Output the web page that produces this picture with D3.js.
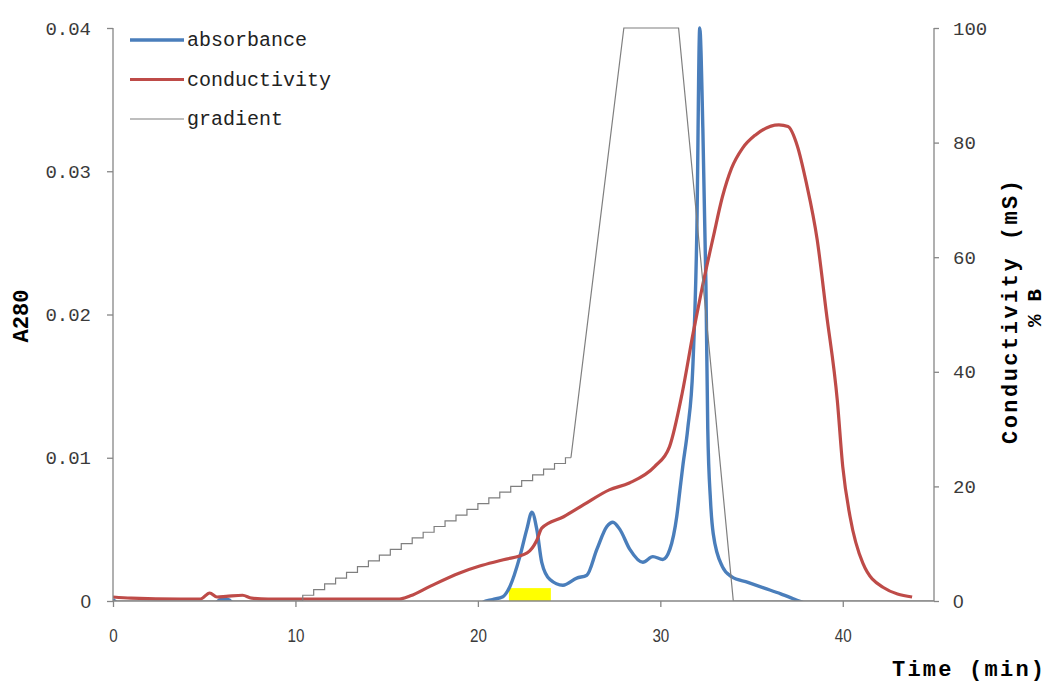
<!DOCTYPE html>
<html><head><meta charset="utf-8">
<script src="https://cdn.jsdelivr.net/npm/d3@7"></script>
<style>
html,body{margin:0;padding:0;background:#fff;}
svg{display:block;}
</style></head>
<body>
<svg id="chart" width="1048" height="682"></svg>
<script>
// ---- data ----
const absTime = [0, 0.3, 1, 5.4, 5.9, 6.3, 6.8, 10, 15, 20, 20.27, 20.8, 21.37, 21.75, 22.3, 22.68, 22.96, 23.23, 23.5, 23.95, 24.66, 25.42, 25.97, 26.52, 27.07, 27.4, 27.78, 28.33, 29.04, 29.59, 30.14, 30.52, 30.9, 31.07, 31.23, 31.5, 31.78, 32.0, 32.16, 32.33, 32.5, 32.6, 32.75, 32.9, 33.4, 33.9, 34.8, 35.7, 36.6, 37.4, 37.8, 38.5, 44];
const absValue = [0.0001, -0.0002, -0.0004, -0.0004, 0.0001, 0.0001, -0.0004, -0.0005, -0.0005, -0.0005, -0.0001, 0.0001, 0.0003, 0.001, 0.0031, 0.005, 0.0062, 0.005, 0.0027, 0.0015, 0.0011, 0.0016, 0.0018, 0.0036, 0.0052, 0.0055, 0.005, 0.0036, 0.0027, 0.0031, 0.0029, 0.0036, 0.0059, 0.0077, 0.0094, 0.012, 0.0163, 0.0257, 0.04, 0.033, 0.022, 0.012, 0.007, 0.0047, 0.0024, 0.0017, 0.0013, 0.0009, 0.0005, 0.0001, -0.0001, -0.0004, -0.0004];

const condTime = [0, 1, 3.7, 4.8, 5.3, 5.7, 6.2, 7.1, 7.6, 8.5, 15.7, 16.3, 17.4, 19.0, 20.1, 21.4, 22.7, 23.23, 23.5, 24.7, 25.8, 27.2, 28.3, 29.7, 30.5, 31.2, 31.8, 32.3, 32.9, 33.4, 33.9, 34.5, 35.2, 36.5, 37.0, 37.5, 38.0, 38.6, 39.1, 39.7, 40.0, 40.4, 41.1, 42.2, 43.8];
const condValue = [0.7, 0.5, 0.35, 0.35, 1.4, 0.7, 0.8, 1.0, 0.5, 0.35, 0.35, 0.9, 2.6, 4.9, 6.1, 7.2, 8.4, 10.6, 12.7, 14.7, 16.8, 19.4, 20.6, 23.5, 26.9, 36.3, 46.8, 54.8, 63.5, 70.5, 75.5, 79.0, 81.3, 83.1, 82.8, 79.5, 73, 63, 50.3, 35, 23.4, 14.7, 6.6, 2.4, 0.7];

// gradient: staircase part (step-after) and ramp part (linear)
const stepTime = [0, 10.4, 11.0, 11.6, 12.2, 12.8, 13.4, 14.0, 14.6, 15.2, 15.8, 16.4, 17.0, 17.6, 18.2, 18.8, 19.4, 20.0, 20.6, 21.2, 21.8, 22.4, 23.0, 23.6, 24.2, 24.8, 25.1];
const stepValue = [0, 1, 2, 3, 4, 5, 6, 7, 8, 9, 10, 11, 12, 13, 14, 15, 16, 17, 18, 19, 20, 21, 22, 23, 24, 25, 25];
const rampTime = [25.1, 28.0, 31.0, 34.0, 45];
const rampValue = [25, 100, 100, 0, 0];

// fraction collected (yellow bar)
const fractionRange = [21.7, 24.0];
const fractionHeight = 0.0009;

const xTicks = [0, 10, 20, 30, 40];
const yLeftTicks = [0, 0.01, 0.02, 0.03, 0.04];
const yRightTicks = [0, 20, 40, 60, 80, 100];
const legendNames = ["absorbance", "conductivity", "gradient"];

// ---- layout ----
const L = 113, R = 934, T = 28, B = 601;
const svg = d3.select("#chart");
const x = d3.scaleLinear().domain([0, 45]).range([L, R]);
const yL = d3.scaleLinear().domain([0, 0.04]).range([B, T]);
const yR = d3.scaleLinear().domain([0, 100]).range([B, T]);

const blue = "#4a7ebb", red = "#be4b48", gray = "#7f7f7f", axisCol = "#868686";
const monoFont = "'Liberation Mono', 'DejaVu Sans Mono', monospace";

svg.append("defs").append("clipPath").attr("id", "plot")
  .append("rect").attr("x", L).attr("y", T - 6).attr("width", R - L).attr("height", B - T + 6);

// yellow fraction bar
svg.append("rect")
  .attr("x", x(fractionRange[0])).attr("y", yL(fractionHeight))
  .attr("width", x(fractionRange[1]) - x(fractionRange[0]))
  .attr("height", yL(0) - yL(fractionHeight))
  .attr("fill", "#ffff00");

const g = svg.append("g").attr("clip-path", "url(#plot)");

const absData = absTime.map((t, i) => [t, absValue[i]]);
const condData = condTime.map((t, i) => [t, condValue[i]]);
const stepData = stepTime.map((t, i) => [t, stepValue[i]]);
const rampData = rampTime.map((t, i) => [t, rampValue[i]]);

g.append("path").datum(absData)
  .attr("d", d3.line().x(d => x(d[0])).y(d => yL(d[1])).curve(d3.curveMonotoneX))
  .attr("fill", "none").attr("stroke", blue).attr("stroke-width", 3.4).attr("stroke-linejoin", "round");

g.append("path").datum(condData)
  .attr("d", d3.line().x(d => x(d[0])).y(d => yR(d[1])).curve(d3.curveMonotoneX))
  .attr("fill", "none").attr("stroke", red).attr("stroke-width", 3.2).attr("stroke-linejoin", "round");

g.append("path").datum(stepData)
  .attr("d", d3.line().x(d => x(d[0])).y(d => yR(d[1])).curve(d3.curveStepAfter))
  .attr("fill", "none").attr("stroke", gray).attr("stroke-width", 1.2);
g.append("path").datum(rampData)
  .attr("d", d3.line().x(d => x(d[0])).y(d => yR(d[1])))
  .attr("fill", "none").attr("stroke", gray).attr("stroke-width", 1.2);

// ---- axes ----
const xAxis = svg.append("g").attr("transform", `translate(0,${B})`)
  .call(d3.axisBottom(x).tickValues(xTicks).tickSize(6).tickPadding(22).tickFormat(d3.format("d")));
const yAxisL = svg.append("g").attr("transform", `translate(${L},0)`)
  .call(d3.axisLeft(yL).tickValues(yLeftTicks).tickSize(6).tickPadding(16)
    .tickFormat(d => d === 0 ? "0" : d3.format(".2f")(d)));
const yAxisR = svg.append("g").attr("transform", `translate(${R},0)`)
  .call(d3.axisRight(yR).tickValues(yRightTicks).tickSize(5).tickPadding(14).tickFormat(d3.format("d")));

[xAxis, yAxisL, yAxisR].forEach(a => {
  a.select(".domain").attr("stroke", axisCol).attr("stroke-width", 1.3);
  a.selectAll(".tick line").attr("stroke", axisCol).attr("stroke-width", 1.3);
  a.selectAll(".tick text").attr("fill", "#3a3a3a").style("font-family", monoFont).style("font-size", "19px");
});
xAxis.select(".domain").attr("d", `M${L},0H${R}`);
yAxisL.select(".domain").attr("d", `M0,${T}V${B}`);
yAxisR.select(".domain").attr("d", `M0,${T}V${B}`);

// the bottom "0" labels and x labels use a narrow sans style
xAxis.selectAll(".tick text").style("font-family", "'Liberation Sans', Arial, sans-serif").style("font-size", "19px")
  .attr("transform", "scale(0.8,1)").attr("x", 0);
yAxisL.selectAll(".tick text").filter(d => d === 0)
  .style("font-family", "'Liberation Sans', Arial, sans-serif").style("font-size", "19px");
yAxisR.selectAll(".tick text").filter(d => d === 0)
  .style("font-family", "'Liberation Sans', Arial, sans-serif").style("font-size", "19px");

// ---- axis titles ----
svg.append("text").attr("transform", "translate(28,316) rotate(-90)")
  .attr("text-anchor", "middle").style("font-family", monoFont).style("font-weight", "bold")
  .style("font-size", "22px").attr("fill", "#000").text("A280");
svg.append("text").attr("transform", "translate(1017,312) rotate(-90)")
  .attr("text-anchor", "middle").style("font-family", monoFont).style("font-weight", "bold")
  .style("font-size", "22px").attr("fill", "#000").attr("textLength", 264).text("Conductivity (mS)");
svg.append("text").attr("transform", "translate(1041,308) rotate(-90)")
  .attr("text-anchor", "middle").style("font-family", monoFont).style("font-weight", "bold")
  .style("font-size", "21px").attr("fill", "#000").text("% B");
svg.append("text").attr("x", 1044).attr("y", 676)
  .attr("text-anchor", "end").style("font-family", monoFont).style("font-weight", "bold")
  .style("font-size", "22px").attr("fill", "#000").attr("textLength", 152).text("Time (min)");

// ---- legend ----
const legendStyle = [
  {color: blue, width: 3.4},
  {color: red, width: 3.2},
  {color: gray, width: 1.2}
];
const legend = svg.append("g");
legendNames.forEach((name, i) => {
  const yy = 40 + i * 39.5;
  legend.append("line").attr("x1", 130).attr("x2", 184).attr("y1", yy).attr("y2", yy)
    .attr("stroke", legendStyle[i].color).attr("stroke-width", legendStyle[i].width);
  legend.append("text").attr("x", 187).attr("y", yy + 6)
    .style("font-family", monoFont).style("font-size", "20px").attr("fill", "#222").text(name);
});
</script>
</body></html>
